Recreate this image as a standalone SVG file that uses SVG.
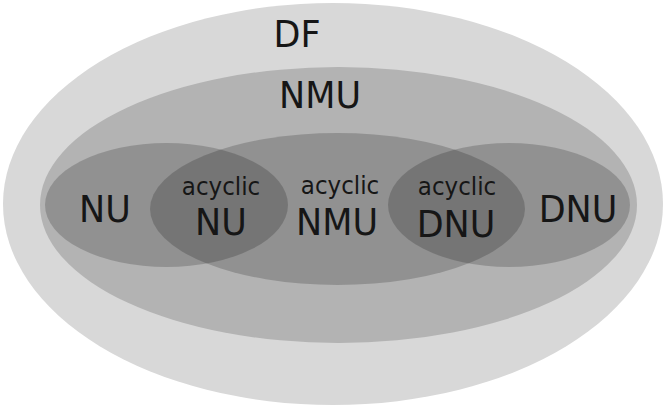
<svg xmlns="http://www.w3.org/2000/svg" width="666" height="412" viewBox="0 0 666 412">
  <style>
    text { font-family: "DejaVu Sans", "Noto Sans", sans-serif; fill: #161616; text-anchor: middle; }
    .big { font-size: 35px; }
    .small { font-size: 23px; }
    .inner { fill: #000000; fill-opacity: 0.19; }
  </style>
  <rect width="666" height="412" fill="#ffffff"/>
  <g id="DF">
    <ellipse cx="333" cy="204" rx="330" ry="201" fill="#d8d8d8"/>
    <text class="big" transform="translate(297,47) scale(1,1.08)">DF</text>
  </g>
  <g id="NMU">
    <ellipse cx="338.5" cy="205" rx="298.5" ry="138" fill="#b3b3b3"/>
    <text class="big" transform="translate(320,108) scale(1,1.08)">NMU</text>
  </g>
  <g id="NU">
    <ellipse class="inner" cx="166.5" cy="205" rx="121.5" ry="62"/>
    <text class="big" transform="translate(105,222) scale(1,1.08)">NU</text>
  </g>
  <g id="acyclic-NMU">
    <ellipse class="inner" cx="337.5" cy="209" rx="187.5" ry="76"/>
    <text class="small" transform="translate(340,194) scale(1,1.08)">acyclic</text>
    <text class="big" transform="translate(337,235) scale(1,1.08)">NMU</text>
  </g>
  <g id="DNU">
    <ellipse class="inner" cx="509" cy="205" rx="121" ry="62"/>
    <text class="big" transform="translate(578,222) scale(1,1.08)">DNU</text>
  </g>
  <g id="acyclic-NU">
    <text class="small" transform="translate(221,195) scale(1,1.08)">acyclic</text>
    <text class="big" transform="translate(221,235) scale(1,1.08)">NU</text>
  </g>
  <g id="acyclic-DNU">
    <text class="small" transform="translate(457,195) scale(1,1.08)">acyclic</text>
    <text class="big" transform="translate(456,237) scale(1,1.08)">DNU</text>
  </g>
</svg>
